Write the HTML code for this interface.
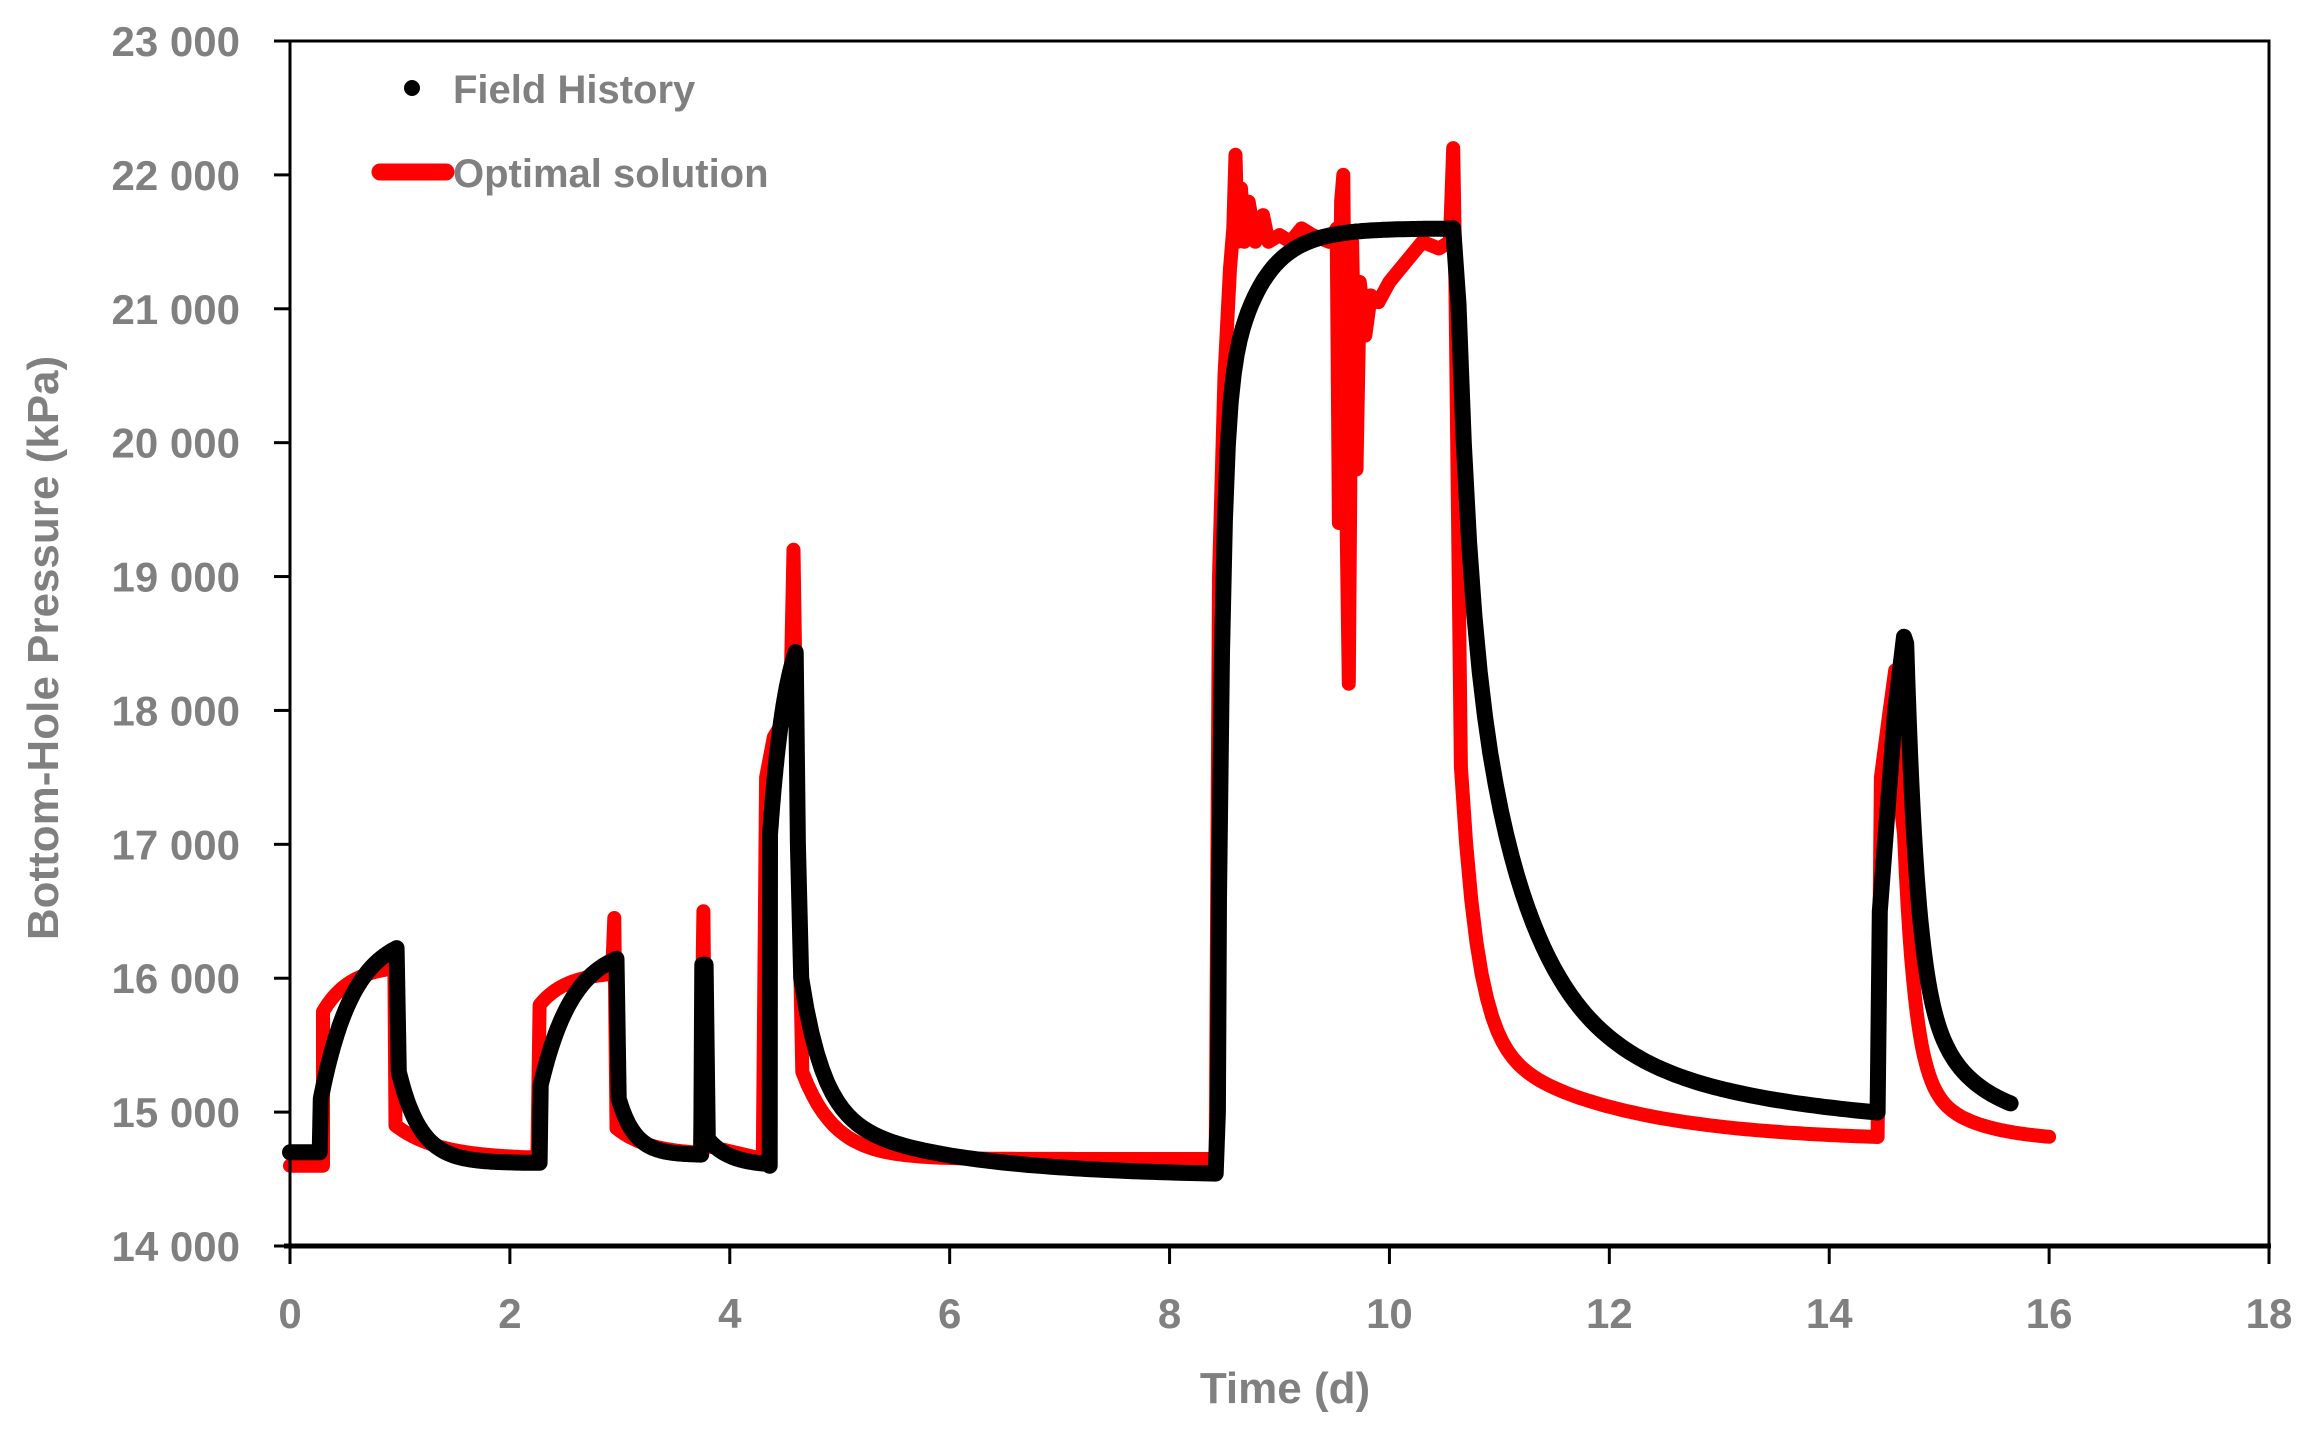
<!DOCTYPE html>
<html><head><meta charset="utf-8"><style>
html,body{margin:0;padding:0;background:#fff}
svg{display:block}
text{font-family:"Liberation Sans",sans-serif;font-weight:bold;fill:#808080}
</style></head><body>
<svg id="s" width="2324" height="1441" viewBox="0 0 2324 1441" xmlns="http://www.w3.org/2000/svg">
<rect x="0" y="0" width="2324" height="1441" fill="#fff"/>
<g id="series"></g>
<rect x="290" y="41" width="1979" height="1205" fill="none" stroke="#000" stroke-width="3"/>
<line x1="284" y1="1246" x2="2271" y2="1246" stroke="#000" stroke-width="5"/>
<g id="ticks" stroke="#000" stroke-width="3"></g>
<g font-size="42" text-anchor="end" id="ylab"></g>
<g font-size="42" text-anchor="middle" id="xlab"></g>
<text x="1285" y="1403" font-size="44" text-anchor="middle">Time  (d)</text>
<text transform="translate(58,648) rotate(-90)" font-size="44" text-anchor="middle">Bottom-Hole  Pressure  (kPa)</text>
<circle cx="412" cy="88" r="8" fill="#000"/>
<text x="453" y="103" font-size="40">Field History</text>
<line x1="380" y1="172" x2="446" y2="172" stroke="#f00" stroke-width="17" stroke-linecap="round"/>
<text x="453" y="187" font-size="40">Optimal solution</text>
</svg>
<script>
var L=290,R=2269,T=41,B=1246;
function X(t){return L+(R-L)*t/18}
function Y(p){return B-(B-T)*(p-14000)/9000}
var NS="http://www.w3.org/2000/svg";
var tk=document.getElementById('ticks'),yl=document.getElementById('ylab'),xl=document.getElementById('xlab');
for(var i=0;i<=9;i++){var y=Y(14000+i*1000);
 var l=document.createElementNS(NS,'line');l.setAttribute('x1',274);l.setAttribute('x2',290);l.setAttribute('y1',y);l.setAttribute('y2',y);tk.appendChild(l);
 var t=document.createElementNS(NS,'text');t.setAttribute('x',240);t.setAttribute('y',y+15);t.textContent=(14+i)+' 000';yl.appendChild(t);}
for(var i=0;i<=9;i++){var x=X(i*2);
 var l=document.createElementNS(NS,'line');l.setAttribute('x1',x);l.setAttribute('x2',x);l.setAttribute('y1',1246);l.setAttribute('y2',1264);tk.appendChild(l);
 var t=document.createElementNS(NS,'text');t.setAttribute('x',x);t.setAttribute('y',1328);t.textContent=i*2;xl.appendChild(t);}
function gen(pts,t0,t1,f){for(var k=0;k<=80;k++){var t=t0+(t1-t0)*k/80;pts.push([t,f(t-t0)]);}}
var E=Math.exp;
var b=[[0,14700],[0.27,14700],[0.28,15100]];
gen(b,0.28,0.97,function(d){return 16350-1250*E(-d/0.3)});
gen(b,0.99,2.27,function(d){return 14620+680*E(-d/0.2)});
gen(b,2.28,2.97,function(d){return 16250-1050*E(-d/0.3)});
gen(b,2.99,3.74,function(d){return 14680+420*E(-d/0.15)});
b.push([3.75,16100],[3.78,16100]);
gen(b,3.8,4.35,function(d){return 14600+200*E(-d/0.2)});
gen(b,4.36,4.6,function(d){return d<0.005?14600:18800-1800*E(-d/0.15)});
b.push([4.62,17000]);
gen(b,4.65,8.42,function(d){return 14520+1000*E(-d/0.2)+480*E(-d/1.2)});
b.push([8.44,15000]);
gen(b,8.45,10.58,function(d){return 21600-3500*E(-d/0.04)-1500*E(-d/0.3)});
gen(b,10.58,14.44,function(d){return Math.min(21600,14850+3000*E(-d/0.1)+3700*E(-d/0.5)+1000*E(-d/2))});
b.push([14.46,16500],[14.6,18000],[14.68,18550]);
gen(b,14.7,15.65,function(d){return 14900+2500*E(-d/0.1)+1100*E(-d/0.5)});
var r=[[0,14600],[0.3,14600],[0.3,15750]];
gen(r,0.3,0.95,function(d){return 16100-350*E(-d/0.25)});
r.push([0.96,14900]);
gen(r,0.96,2.25,function(d){return 14650+250*E(-d/0.4)});
r.push([2.27,15800]);
gen(r,2.27,2.93,function(d){return 16050-250*E(-d/0.25)});
r.push([2.95,16450],[2.97,14900]);
gen(r,2.97,3.73,function(d){return 14680+200*E(-d/0.3)});
r.push([3.76,16500],[3.78,14750],[4.3,14650],[4.33,17500],[4.4,17800],[4.55,18000],[4.58,19200],[4.62,17000],[4.66,15300]);
gen(r,4.66,8.42,function(d){return 14650+650*E(-d/0.3)});
r.push([8.45,19000],[8.5,20500],[8.55,21300],[8.58,21600],[8.6,22150],[8.62,21500],[8.65,21900],[8.68,21500],[8.72,21800],[8.78,21500],[8.85,21700],[8.9,21500],[9.0,21550],[9.1,21500],[9.2,21600],[9.3,21550],[9.45,21500],[9.52,21600],[9.54,19400],[9.56,21800],[9.58,22000],[9.6,20000],[9.63,18200],[9.66,21500],[9.7,19800],[9.73,21200],[9.78,20800],[9.83,21100],[9.9,21050],[10.0,21200],[10.1,21300],[10.2,21400],[10.3,21500],[10.45,21450],[10.55,21500],[10.58,22200],[10.6,21200],[10.63,19000]);
gen(r,10.65,14.44,function(d){return 14780+2000*E(-d/0.15)+800*E(-d/1.2)});
r.push([14.47,17500],[14.55,18000],[14.6,18300],[14.62,17500]);
gen(r,14.68,16.0,function(d){return 14780+1800*E(-d/0.1)+500*E(-d/0.5)});
function path(pts){return pts.map(function(p,i){return (i?'L':'M')+X(p[0]).toFixed(1)+' '+Y(p[1]).toFixed(1)}).join('')}
var g=document.getElementById('series');
var pr=document.createElementNS(NS,'path');pr.setAttribute('d',path(r));pr.setAttribute('fill','none');pr.setAttribute('stroke','#f00');pr.setAttribute('stroke-width','14');pr.setAttribute('stroke-linejoin','round');pr.setAttribute('stroke-linecap','round');g.appendChild(pr);
var pb=document.createElementNS(NS,'path');pb.setAttribute('d',path(b));pb.setAttribute('fill','none');pb.setAttribute('stroke','#000');pb.setAttribute('stroke-width','16');pb.setAttribute('stroke-linejoin','round');pb.setAttribute('stroke-linecap','round');g.appendChild(pb);
</script>
</body></html>
